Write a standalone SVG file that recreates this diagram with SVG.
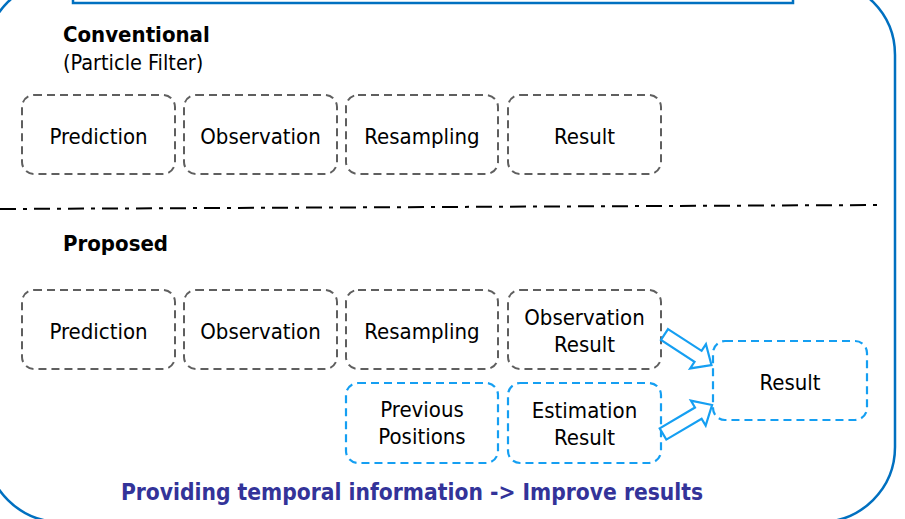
<svg xmlns="http://www.w3.org/2000/svg" width="905" height="519" viewBox="0 0 905 519">
<defs>
<style>
text{font-family:"DejaVu Sans Condensed","DejaVu Sans",sans-serif;font-stretch:condensed;fill:#000}
.lbl{font-size:22px;text-anchor:middle}
.hdr{font-size:22px;font-weight:bold}
.sub{font-size:21.5px}
.foot{font-size:22.6px;font-weight:bold;fill:#333399;text-anchor:middle}
.gray{fill:#fff;stroke:#5f5f5f;stroke-width:2;stroke-dasharray:8 5}
.blue{fill:#fff;stroke:#159ff2;stroke-width:2.2;stroke-dasharray:8 5}
.frame{fill:none;stroke:#0070c0;stroke-width:2.5}
.barrow{fill:#fff;stroke:#159ff2;stroke-width:2.2;stroke-linejoin:miter}
</style>
</defs>
<rect id="frame" class="frame" x="-14" y="-20" width="909" height="542" rx="75" ry="75"/>
<rect id="topbar" class="frame" x="73" y="-10" width="720" height="13" fill="#fff"/>
<text class="hdr" x="63" y="42">Conventional</text>
<text class="sub" x="63" y="70">(Particle Filter)</text>
<line x1="0" y1="209" x2="880" y2="205" stroke="#000" stroke-width="2" stroke-dasharray="16 7 4 7"/>
<text class="hdr" x="63" y="251">Proposed</text>

<g id="c-prediction"><rect class="gray" x="22" y="95" width="153" height="79" rx="12"/><text class="lbl" x="98.5" y="144">Prediction</text></g>
<g id="c-observation"><rect class="gray" x="184" y="95" width="153" height="79" rx="12"/><text class="lbl" x="260.5" y="144">Observation</text></g>
<g id="c-resampling"><rect class="gray" x="346" y="95" width="152" height="79" rx="12"/><text class="lbl" x="422" y="144">Resampling</text></g>
<g id="c-result"><rect class="gray" x="508" y="95" width="153" height="79" rx="12"/><text class="lbl" x="584.5" y="144">Result</text></g>

<g id="p-prediction"><rect class="gray" x="22" y="290" width="153" height="79" rx="12"/><text class="lbl" x="98.5" y="339">Prediction</text></g>
<g id="p-observation"><rect class="gray" x="184" y="290" width="153" height="79" rx="12"/><text class="lbl" x="260.5" y="339">Observation</text></g>
<g id="p-resampling"><rect class="gray" x="346" y="290" width="152" height="79" rx="12"/><text class="lbl" x="422" y="339">Resampling</text></g>
<g id="p-obsresult"><rect class="gray" x="508" y="290" width="153" height="79" rx="12"/><text class="lbl" x="584.5" y="325">Observation</text><text class="lbl" x="584.5" y="352">Result</text></g>
<g id="p-prevpos"><rect class="blue" x="346" y="383" width="152" height="80" rx="12"/><text class="lbl" x="422" y="417">Previous</text><text class="lbl" x="422" y="444">Positions</text></g>
<g id="p-estresult"><rect class="blue" x="508" y="383" width="153" height="80" rx="12"/><text class="lbl" x="584.5" y="418">Estimation</text><text class="lbl" x="584.5" y="445">Result</text></g>
<g id="p-result"><rect class="blue" x="713" y="341" width="154" height="79" rx="12"/><text class="lbl" x="790" y="390">Result</text></g>

<g id="connectors">
<polygon class="barrow" transform="translate(664.5 334.5) rotate(33)" points="0,-6.5 40,-6.5 40,-14.5 56,0 40,14.5 40,6.5 0,6.5"/>
<polygon class="barrow" transform="translate(663 434) rotate(-30.6)" points="0,-6.5 41,-6.5 41,-14.5 57,0 41,14.5 41,6.5 0,6.5"/>
</g>
<text class="foot" x="412" y="500">Providing temporal information -&gt; Improve results</text>
</svg>
